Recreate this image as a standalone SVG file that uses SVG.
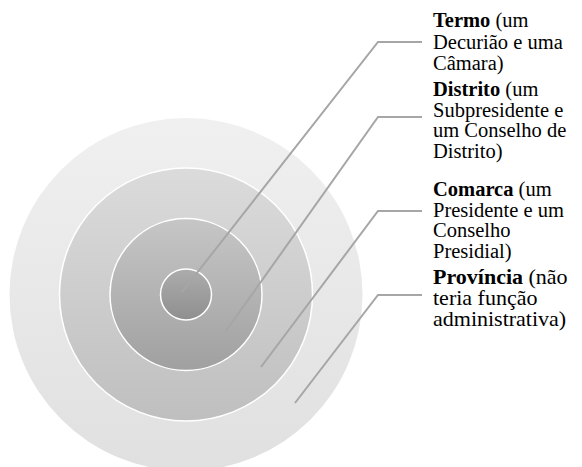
<svg xmlns="http://www.w3.org/2000/svg" width="582" height="467" viewBox="0 0 582 467">
<style>
.ring{stroke:#ffffff;stroke-width:1.5}
.lbl{font-family:'Liberation Serif','Times New Roman',Times,serif;font-size:20.5px;fill:#000}
.big{font-size:22px}
.b{font-weight:bold}
.lead{fill:none;stroke:#a6a6a6;stroke-width:2}
</style>
<defs>
<linearGradient id="g1" x1="0" y1="0" x2="0" y2="1"><stop offset="0" stop-color="#f0f0f0"/><stop offset="1" stop-color="#e0e0e0"/></linearGradient>
<linearGradient id="g2" x1="0" y1="0" x2="0" y2="1"><stop offset="0" stop-color="#dbdbdb"/><stop offset="1" stop-color="#bfbfbf"/></linearGradient>
<linearGradient id="g3" x1="0" y1="0" x2="0" y2="1"><stop offset="0" stop-color="#c6c6c6"/><stop offset="1" stop-color="#a0a0a0"/></linearGradient>
<linearGradient id="g4" x1="0" y1="0" x2="0" y2="1"><stop offset="0" stop-color="#acacac"/><stop offset="1" stop-color="#8f8f8f"/></linearGradient>
</defs>
<rect width="582" height="467" fill="#ffffff"/>
<g id="provincia-ring"><circle cx="186" cy="294.5" r="176.5" fill="url(#g1)"/></g>
<g id="comarca-ring"><circle class="ring" cx="186" cy="294.5" r="126.5" fill="url(#g2)"/></g>
<g id="distrito-ring"><circle class="ring" cx="186" cy="294.5" r="76" fill="url(#g3)"/></g>
<g id="termo-ring"><circle class="ring" cx="186" cy="294.5" r="25.5" fill="url(#g4)"/></g>
<g id="connectors">
<polyline class="lead" points="182,292 378,42 422,42"/>
<polyline class="lead" points="226,331 378,117 422,117"/>
<polyline class="lead" points="261,367 378,211 422,211"/>
<polyline class="lead" points="295,403 378,295 422,295"/>
</g>
<g id="termo-label">
<text class="lbl" x="433" y="27"><tspan class="b">Termo</tspan> (um</text>
<text class="lbl" x="433" y="48.5">Decurião e uma</text>
<text class="lbl" x="433" y="70">Câmara)</text>
</g>
<g id="distrito-label">
<text class="lbl" x="433" y="96"><tspan class="b">Distrito</tspan> (um</text>
<text class="lbl" x="433" y="116.5">Subpresidente e</text>
<text class="lbl" x="433" y="137">um Conselho de</text>
<text class="lbl" x="433" y="157.5">Distrito)</text>
</g>
<g id="comarca-label">
<text class="lbl" x="433" y="196"><tspan class="b">Comarca</tspan> (um</text>
<text class="lbl" x="433" y="216.5">Presidente e um</text>
<text class="lbl" x="433" y="237">Conselho</text>
<text class="lbl" x="433" y="257.5">Presidial)</text>
</g>
<g id="provincia-label">
<text class="lbl big" x="433" y="284"><tspan class="b">Província</tspan> (não</text>
<text class="lbl big" x="433" y="305">teria função</text>
<text class="lbl big" x="433" y="326">administrativa)</text>
</g>
</svg>
